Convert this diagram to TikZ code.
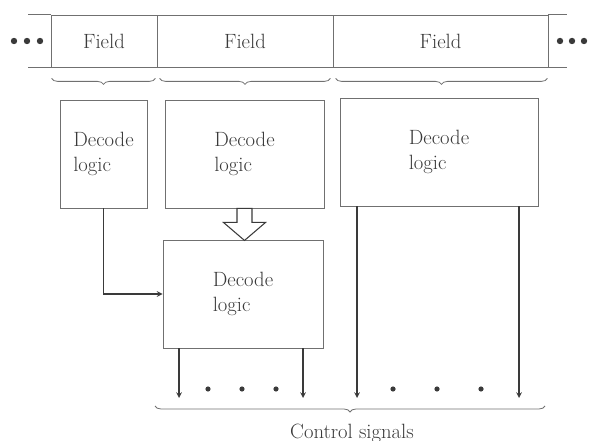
\documentclass[tikz,border=0pt]{standalone}
\usepackage{tikz}
\usetikzlibrary{arrows, positioning, calc, decorations.pathreplacing}
\definecolor{tinta}{HTML}{3A3A3A}
\definecolor{linea}{HTML}{707070}
\tikzset{
  campo/.style={rectangle, minimum height=39pt, inner sep=0pt, draw=linea, line width=0.6pt,
                font=\fontsize{15.5}{19}\selectfont, text=tinta},
  deco/.style={rectangle, minimum height=81pt, draw=linea, line width=0.7pt,
               font=\fontsize{15.5}{19}\selectfont, text=tinta, align=left},
  arrow/.style={line width=0.9pt,->,>=stealth,color=tinta},
  llave/.style={decorate, decoration={brace, amplitude=4.5pt, mirror}, draw=linea, line width=0.6pt},
  hueca/.style={draw=tinta, line width=0.8pt, fill=white}
}

\begin{document}
\begin{tikzpicture}[x=0.75pt, y=-0.75pt]
  \useasboundingbox (0,0) rectangle (589,441);
  % fields
  \node (f1) [campo, minimum width=79.5pt] at (104,41) {Field};
  \node (f2) [campo, minimum width=132pt] at (245,41) {Field};
  \node (f3) [campo, minimum width=161.25pt] at (440.5,41) {Field};
  \draw [linea, line width=0.6pt] (f1.north west) -- ++(-23,0);
  \draw [linea, line width=0.6pt] (f1.south west) -- ++(-23,0);
  \draw [linea, line width=0.6pt] (f3.north east) -- ++(19,0);
  \draw [linea, line width=0.6pt] (f3.south east) -- ++(19,0);
  \foreach \x in {14,27,40,560,572,584} \fill [tinta] (\x,41) circle (3.2);
  \draw [llave] ($(f1.south west)+(1,11)$) -- ($(f1.south east)+(-2,11)$);
  \draw [llave] ($(f2.south west)+(3,11)$) -- ($(f2.south east)+(-3,11)$);
  \draw [llave] ($(f3.south west)+(3,11)$) -- ($(f3.south east)+(-1,11)$);
  % decode boxes
  \node (box1) [deco, minimum width=65.25pt] at (103.5,154) {Decode\\logic};
  \node (box2) [deco, minimum width=119.25pt] at (244.5,154) {Decode\\logic};
  \node (box3) [deco, minimum width=148.5pt] at (439,152) {Decode\\logic};
  \node (box4) [deco, minimum width=120pt] at (243,294) {Decode\\logic};
  \draw [hueca] ($(box2.south)+(-7.5,0)$) -- ++(0,14) -- ++(-13.5,0) -- ++(21,18)
        -- ++(21,-18) -- ++(-13.5,0) -- ++(0,-14) -- cycle;
  \draw [arrow] (box1.south) |- (box4.west);
  % control signals
  \coordinate (s1) at (179,398);
  \coordinate (s2) at (303,398);
  \coordinate (s3) at (357,398);
  \coordinate (s4) at (519,398);
  \draw [arrow] (box4.south -| s1) -- (s1);
  \draw [arrow] (box4.south -| s2) -- (s2);
  \draw [arrow] (box3.south -| s3) -- (s3);
  \draw [arrow] (box3.south -| s4) -- (s4);
  \foreach \x in {208,242,276,393,437,481} \fill [tinta] (\x,389) circle (2.6);
  \draw [llave] (155,406) -- (545,406);
  \node (ctrl) [font=\fontsize{15.5}{19}\selectfont, text=tinta] at (352,433) {Control signals};
\end{tikzpicture}
\end{document}
